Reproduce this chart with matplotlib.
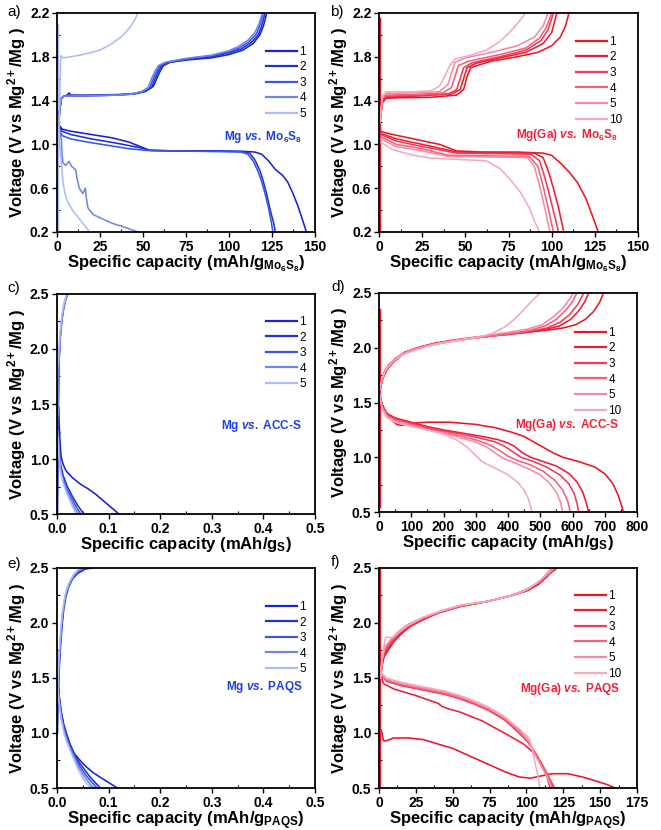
import numpy as np
import matplotlib
matplotlib.use("Agg")
import matplotlib.pyplot as plt
from matplotlib.ticker import MultipleLocator

plt.rcParams['font.family'] = ['Liberation Sans', 'DejaVu Sans']
plt.rcParams['mathtext.fontset'] = 'custom'
plt.rcParams['mathtext.rm'] = 'Liberation Sans:bold'
plt.rcParams['mathtext.bf'] = 'Liberation Sans:bold'
plt.rcParams['mathtext.it'] = 'Liberation Sans:italic:bold'

# ---------------- data (capacity, voltage) ----------------
blue_labels = ['1', '2', '3', '4', '5']
red_labels = ['1', '2', '3', '4', '5', '10']

# tick values
mo_yticks = [0.2, 0.6, 1.0, 1.4, 1.8, 2.2]
v_yticks = [0.5, 1.0, 1.5, 2.0, 2.5]

# a) Mg vs. Mo6S8
a_chg = [
    [(0.8, 1.15), (1.5, 1.3), (2.5, 1.42), (4, 1.44), (6, 1.45), (7, 1.47), (8, 1.45), (20, 1.45), (35, 1.455), (45, 1.465), (52, 1.49), (56, 1.53), (58, 1.6), (60, 1.67), (62, 1.72), (66, 1.75), (75, 1.77), (90, 1.79), (100, 1.82), (108, 1.86), (114, 1.92), (118, 2.0), (120, 2.08), (122, 2.2)],
    [(0.8, 1.15), (1.5, 1.3), (2.5, 1.42), (4, 1.44), (20, 1.445), (35, 1.45), (45, 1.46), (51, 1.48), (55, 1.52), (57, 1.6), (59, 1.67), (61, 1.72), (65, 1.75), (75, 1.775), (90, 1.8), (100, 1.835), (107, 1.87), (113, 1.93), (117, 2.0), (119, 2.08), (121, 2.2)],
    [(0.8, 1.15), (1.5, 1.3), (2.5, 1.42), (4, 1.44), (20, 1.445), (35, 1.45), (44, 1.46), (50, 1.48), (54, 1.52), (56, 1.6), (58, 1.67), (60, 1.72), (64, 1.75), (75, 1.78), (90, 1.81), (100, 1.845), (106, 1.88), (112, 1.94), (116, 2.01), (118, 2.09), (120, 2.2)],
    [(0.8, 1.15), (1.5, 1.3), (2.5, 1.42), (4, 1.44), (20, 1.445), (35, 1.45), (43, 1.46), (49, 1.48), (53, 1.52), (55, 1.6), (57, 1.67), (59, 1.72), (63, 1.75), (75, 1.785), (90, 1.815), (100, 1.855), (105, 1.89), (111, 1.95), (115, 2.02), (117.5, 2.1), (119.5, 2.2)],
    [(1, 0.9), (1.3, 1.2), (1.7, 1.5), (2.2, 1.81), (3.5, 1.79), (8, 1.8), (15, 1.82), (25, 1.86), (32, 1.92), (38, 1.99), (42, 2.06), (45, 2.13), (47, 2.2)],
]
a_dis = [
    [(1.5, 1.17), (3, 1.14), (8, 1.12), (20, 1.09), (32, 1.06), (42, 1.02), (50, 0.97), (54, 0.945), (70, 0.94), (90, 0.94), (110, 0.935), (115, 0.93), (119, 0.91), (123, 0.85), (127, 0.77), (131, 0.72), (134, 0.66), (137, 0.56), (140, 0.44), (143, 0.3), (145, 0.2)],
    [(1.5, 1.15), (3, 1.12), (8, 1.09), (20, 1.05), (35, 1.01), (48, 0.97), (54, 0.945), (70, 0.94), (90, 0.94), (108, 0.935), (112, 0.92), (115, 0.86), (118, 0.76), (120, 0.66), (122, 0.54), (124, 0.4), (126, 0.28), (127, 0.2)],
    [(1.5, 1.13), (3, 1.08), (8, 1.05), (18, 1.02), (30, 0.99), (42, 0.96), (52, 0.945), (70, 0.94), (90, 0.935), (107, 0.93), (111, 0.91), (114, 0.85), (117, 0.75), (119, 0.66), (121, 0.55), (123, 0.42), (124.5, 0.3), (125.5, 0.2)],
    [(1.5, 1.12), (2.5, 1.05), (3, 0.9), (3.5, 0.83), (5, 0.81), (7, 0.845), (8.5, 0.8), (10, 0.78), (11, 0.76), (11.5, 0.7), (13, 0.6), (15, 0.55), (16.5, 0.6), (17, 0.52), (18, 0.42), (21, 0.36), (25, 0.33), (32, 0.28), (40, 0.24), (47, 0.2)],
    [(1, 1.12), (1.5, 1.05), (2, 0.95), (2.7, 0.8), (3.5, 0.66), (4.5, 0.56), (6, 0.48), (9, 0.4), (12, 0.34), (15, 0.28), (17, 0.24), (19, 0.2)],
]
a_rest = [(0.4, 0.2), (0.4, 2.1)]

# b) Mg(Ga) vs. Mo6S8
b_chg = [
    [(0.5, 1.2), (2, 1.38), (4, 1.42), (10, 1.425), (30, 1.43), (45, 1.45), (49, 1.5), (51, 1.62), (53, 1.7), (57, 1.72), (65, 1.76), (80, 1.8), (92, 1.84), (100, 1.9), (105, 1.98), (108, 2.08), (110, 2.2)],
    [(0.5, 1.2), (2, 1.4), (4, 1.43), (20, 1.44), (42, 1.46), (47, 1.5), (49, 1.6), (51, 1.7), (56, 1.74), (70, 1.79), (85, 1.84), (95, 1.92), (100, 2.02), (103, 2.2)],
    [(0.5, 1.2), (2, 1.41), (4, 1.44), (20, 1.445), (40, 1.46), (45, 1.5), (47, 1.6), (49, 1.7), (54, 1.745), (70, 1.8), (85, 1.86), (94, 1.95), (98, 2.05), (101, 2.2)],
    [(0.5, 1.2), (2, 1.42), (4, 1.45), (20, 1.455), (37, 1.47), (42, 1.52), (44, 1.62), (46, 1.72), (52, 1.76), (70, 1.82), (85, 1.88), (93, 1.97), (97, 2.07), (100, 2.2)],
    [(0.5, 1.2), (2, 1.43), (4, 1.465), (20, 1.47), (35, 1.48), (40, 1.55), (42, 1.65), (44, 1.75), (50, 1.79), (65, 1.84), (80, 1.9), (90, 1.98), (95, 2.08), (98, 2.2)],
    [(0.5, 1.2), (2, 1.44), (4, 1.48), (20, 1.48), (30, 1.49), (35, 1.53), (38, 1.62), (41, 1.72), (44, 1.78), (52, 1.81), (62, 1.86), (70, 1.94), (76, 2.03), (81, 2.12), (85, 2.2)],
]
b_dis = [
    [(1, 1.12), (5, 1.1), (20, 1.05), (35, 1.0), (45, 0.94), (60, 0.93), (80, 0.93), (95, 0.92), (100, 0.9), (105, 0.83), (110, 0.75), (115, 0.65), (120, 0.5), (124, 0.33), (127, 0.2)],
    [(1, 1.1), (10, 1.05), (25, 1.0), (45, 0.93), (90, 0.92), (95, 0.88), (98, 0.76), (101, 0.6), (104, 0.42), (107, 0.2)],
    [(1, 1.09), (10, 1.03), (25, 0.98), (45, 0.92), (88, 0.91), (93, 0.85), (96, 0.7), (99, 0.52), (104, 0.2)],
    [(1, 1.07), (10, 1.0), (25, 0.96), (40, 0.9), (87, 0.89), (92, 0.8), (95, 0.62), (98, 0.42), (101, 0.2)],
    [(1, 1.05), (10, 0.98), (25, 0.94), (40, 0.89), (86, 0.88), (90, 0.8), (93, 0.62), (96, 0.42), (99, 0.2)],
    [(1, 1.02), (8, 0.95), (20, 0.9), (30, 0.875), (62, 0.85), (70, 0.78), (76, 0.68), (82, 0.56), (87, 0.42), (90, 0.3), (93, 0.2)],
]
b_rest = [(0.3, 0.2), (0.3, 2.15)]

# c) Mg vs. ACC-S
c_chg = [
    [(0.001, 0.5), (0.002, 1.0), (0.003, 1.47)],
    [(0.002, 1.3), (0.003, 1.6), (0.004, 1.9), (0.006, 2.1), (0.009, 2.25), (0.013, 2.38), (0.017, 2.46), (0.02, 2.5)],
    [(0.002, 1.3), (0.003, 1.65), (0.004, 1.88), (0.006, 2.08), (0.009, 2.24), (0.013, 2.37), (0.017, 2.45), (0.021, 2.5)],
    [(0.002, 1.4), (0.003, 1.7), (0.004, 1.9), (0.006, 2.1), (0.009, 2.26), (0.013, 2.39), (0.018, 2.48), (0.02, 2.5)],
    [(0.002, 1.85), (0.004, 2.02), (0.006, 2.15), (0.009, 2.28), (0.013, 2.4), (0.017, 2.47), (0.019, 2.5)],
]
c_dis = [
    [(0.003, 1.47), (0.004, 1.35), (0.006, 1.15), (0.008, 1.02), (0.012, 0.95), (0.018, 0.89), (0.03, 0.83), (0.046, 0.77), (0.06, 0.73), (0.075, 0.68), (0.09, 0.62), (0.105, 0.56), (0.12, 0.5)],
    [(0.002, 1.3), (0.004, 1.1), (0.007, 0.95), (0.012, 0.85), (0.02, 0.75), (0.03, 0.66), (0.04, 0.58), (0.052, 0.5)],
    [(0.002, 1.28), (0.004, 1.08), (0.007, 0.92), (0.012, 0.82), (0.02, 0.72), (0.03, 0.63), (0.038, 0.56), (0.046, 0.5)],
    [(0.002, 1.25), (0.004, 1.05), (0.007, 0.9), (0.012, 0.8), (0.02, 0.7), (0.028, 0.62), (0.035, 0.55), (0.041, 0.5)],
    [(0.002, 1.2), (0.004, 1.02), (0.007, 0.88), (0.012, 0.78), (0.018, 0.7), (0.025, 0.62), (0.032, 0.55), (0.037, 0.5)],
]

# d) Mg(Ga) vs. ACC-S
d_chg = [
    [(0, 1.55), (5, 1.64), (12, 1.72), (25, 1.8), (45, 1.87), (75, 1.94), (110, 1.99), (160, 2.03), (220, 2.06), (300, 2.09), (380, 2.12), (450, 2.14), (520, 2.16), (570, 2.18), (610, 2.21), (640, 2.26), (665, 2.33), (685, 2.42), (696, 2.5)],
    [(0, 1.56), (6, 1.66), (14, 1.75), (28, 1.83), (50, 1.9), (80, 1.96), (120, 2.0), (170, 2.04), (230, 2.07), (310, 2.1), (390, 2.12), (460, 2.14), (520, 2.17), (560, 2.2), (595, 2.26), (620, 2.34), (638, 2.42), (650, 2.5)],
    [(0, 1.57), (7, 1.68), (16, 1.77), (32, 1.85), (55, 1.91), (90, 1.97), (130, 2.01), (180, 2.04), (240, 2.07), (320, 2.1), (400, 2.12), (470, 2.15), (520, 2.18), (560, 2.23), (590, 2.3), (615, 2.39), (635, 2.5)],
    [(0, 1.58), (8, 1.7), (18, 1.79), (35, 1.86), (60, 1.92), (95, 1.97), (140, 2.01), (190, 2.04), (250, 2.07), (330, 2.1), (410, 2.13), (470, 2.16), (515, 2.2), (550, 2.26), (578, 2.34), (600, 2.42), (613, 2.5)],
    [(0, 1.59), (9, 1.71), (20, 1.8), (40, 1.87), (65, 1.93), (100, 1.98), (150, 2.02), (200, 2.05), (260, 2.08), (330, 2.11), (400, 2.14), (460, 2.17), (505, 2.21), (540, 2.28), (570, 2.36), (590, 2.44), (603, 2.5)],
    [(0, 1.6), (10, 1.72), (22, 1.8), (45, 1.88), (75, 1.94), (115, 1.98), (170, 2.03), (230, 2.06), (300, 2.09), (350, 2.13), (390, 2.19), (420, 2.26), (450, 2.35), (475, 2.43), (500, 2.5)],
]
d_dis = [
    [(0, 1.6), (8, 1.5), (18, 1.42), (35, 1.35), (55, 1.3), (70, 1.29), (90, 1.31), (150, 1.32), (220, 1.32), (300, 1.3), (360, 1.27), (410, 1.23), (450, 1.19), (480, 1.14), (510, 1.09), (540, 1.04), (570, 1.0), (620, 0.96), (670, 0.91), (700, 0.85), (725, 0.76), (742, 0.65), (752, 0.56), (758, 0.5)],
    [(0, 1.6), (10, 1.48), (25, 1.4), (50, 1.36), (100, 1.32), (150, 1.28), (200, 1.25), (260, 1.22), (320, 1.19), (370, 1.16), (400, 1.13), (420, 1.1), (445, 1.04), (470, 1.0), (510, 0.96), (550, 0.92), (590, 0.85), (615, 0.77), (632, 0.68), (643, 0.58), (650, 0.5)],
    [(0, 1.6), (10, 1.47), (25, 1.39), (50, 1.35), (100, 1.31), (150, 1.27), (200, 1.24), (260, 1.21), (320, 1.17), (360, 1.14), (390, 1.1), (415, 1.05), (440, 1.0), (480, 0.96), (520, 0.91), (560, 0.84), (588, 0.76), (605, 0.67), (614, 0.58), (619, 0.5)],
    [(0, 1.6), (10, 1.46), (25, 1.38), (50, 1.34), (100, 1.3), (150, 1.26), (200, 1.23), (260, 1.19), (310, 1.15), (345, 1.11), (375, 1.06), (400, 1.01), (430, 0.97), (470, 0.93), (510, 0.87), (545, 0.79), (570, 0.7), (585, 0.6), (593, 0.5)],
    [(0, 1.6), (10, 1.45), (25, 1.37), (50, 1.33), (100, 1.29), (150, 1.25), (200, 1.22), (250, 1.18), (300, 1.14), (335, 1.09), (360, 1.04), (385, 0.99), (420, 0.95), (460, 0.9), (500, 0.84), (530, 0.76), (552, 0.67), (564, 0.58), (569, 0.5)],
    [(0, 1.6), (10, 1.44), (25, 1.36), (50, 1.32), (100, 1.28), (150, 1.25), (200, 1.21), (240, 1.16), (270, 1.1), (295, 1.03), (320, 0.96), (360, 0.9), (400, 0.84), (430, 0.77), (450, 0.7), (463, 0.62), (470, 0.55), (474, 0.5)],
]
d_rest = [(2, 0.55), (2, 2.35)]

# e) Mg vs. PAQS
e_chg = [
    [(0.001, 1.0), (0.002, 1.3), (0.003, 1.5)],
    [(0.002, 1.3), (0.004, 1.55), (0.007, 1.8), (0.01, 1.98), (0.013, 2.12), (0.017, 2.23), (0.022, 2.32), (0.03, 2.4), (0.04, 2.45), (0.055, 2.49), (0.07, 2.5)],
    [(0.002, 1.35), (0.004, 1.6), (0.007, 1.85), (0.01, 2.02), (0.013, 2.15), (0.017, 2.26), (0.022, 2.34), (0.03, 2.41), (0.04, 2.46), (0.05, 2.49), (0.062, 2.5)],
    [(0.002, 1.4), (0.004, 1.65), (0.007, 1.88), (0.01, 2.05), (0.014, 2.18), (0.018, 2.28), (0.024, 2.36), (0.032, 2.43), (0.042, 2.48), (0.052, 2.5)],
    [(0.002, 1.45), (0.004, 1.7), (0.007, 1.92), (0.01, 2.08), (0.014, 2.21), (0.019, 2.31), (0.026, 2.39), (0.034, 2.45), (0.042, 2.49), (0.047, 2.5)],
]
e_dis = [
    [(0.001, 1.52), (0.004, 1.35), (0.008, 1.2), (0.013, 1.08), (0.018, 1.0), (0.025, 0.9), (0.034, 0.81), (0.045, 0.75), (0.055, 0.7), (0.07, 0.64), (0.083, 0.6), (0.1, 0.55), (0.117, 0.5)],
    [(0.001, 1.5), (0.004, 1.34), (0.008, 1.19), (0.013, 1.07), (0.018, 0.99), (0.025, 0.9), (0.034, 0.8), (0.045, 0.72), (0.056, 0.65), (0.066, 0.59), (0.076, 0.54), (0.084, 0.5)],
    [(0.001, 1.48), (0.004, 1.32), (0.008, 1.17), (0.013, 1.05), (0.018, 0.97), (0.025, 0.88), (0.034, 0.79), (0.044, 0.7), (0.054, 0.63), (0.064, 0.57), (0.072, 0.53), (0.078, 0.5)],
    [(0.001, 1.46), (0.004, 1.3), (0.008, 1.15), (0.013, 1.03), (0.018, 0.95), (0.025, 0.86), (0.033, 0.78), (0.042, 0.69), (0.051, 0.62), (0.06, 0.56), (0.067, 0.52), (0.072, 0.5)],
    [(0.001, 1.44), (0.004, 1.28), (0.008, 1.13), (0.013, 1.01), (0.018, 0.93), (0.025, 0.85), (0.032, 0.77), (0.04, 0.68), (0.048, 0.61), (0.056, 0.55), (0.062, 0.52), (0.067, 0.5)],
]

# f) Mg(Ga) vs. PAQS
f_chg = [
    [(1, 1.5), (2, 1.6), (3, 1.68), (6, 1.75), (10, 1.83), (15, 1.9), (22, 1.98), (30, 2.04), (40, 2.09), (55, 2.15), (75, 2.2), (90, 2.25), (100, 2.29), (108, 2.35), (114, 2.42), (119, 2.5)],
    [(1, 1.5), (2, 1.62), (4, 1.72), (8, 1.8), (13, 1.88), (20, 1.96), (30, 2.03), (42, 2.1), (55, 2.15), (75, 2.2), (90, 2.25), (101, 2.3), (109, 2.37), (115, 2.44), (120, 2.5)],
    [(1, 1.5), (2, 1.64), (4, 1.74), (8, 1.82), (13, 1.9), (20, 1.97), (30, 2.04), (42, 2.1), (55, 2.15), (75, 2.2), (90, 2.25), (101, 2.31), (110, 2.38), (116, 2.45), (121, 2.5)],
    [(1, 1.5), (2, 1.66), (4, 1.76), (8, 1.84), (13, 1.91), (20, 1.98), (30, 2.05), (42, 2.1), (55, 2.15), (75, 2.2), (90, 2.25), (100, 2.3), (108, 2.37), (114, 2.44), (118, 2.5)],
    [(1, 1.5), (2, 1.68), (4, 1.78), (8, 1.85), (13, 1.92), (20, 1.99), (30, 2.05), (42, 2.11), (55, 2.16), (75, 2.2), (90, 2.25), (100, 2.3), (109, 2.38), (115, 2.45), (119, 2.5)],
    [(1, 1.5), (2, 1.65), (3.5, 1.8), (4.5, 1.87), (10, 1.87), (13, 1.91), (20, 1.98), (30, 2.05), (42, 2.11), (55, 2.16), (75, 2.2), (90, 2.25), (100, 2.3), (108, 2.37), (113, 2.44), (117, 2.5)],
]
f_dis = [
    [(0.5, 1.05), (2, 1.0), (3, 0.93), (5, 0.93), (10, 0.955), (20, 0.955), (30, 0.94), (40, 0.9), (50, 0.86), (60, 0.8), (70, 0.74), (85, 0.65), (95, 0.6), (103, 0.59), (110, 0.61), (117, 0.63), (128, 0.63), (138, 0.6), (148, 0.56), (155, 0.53), (160, 0.5)],
    [(1.5, 1.52), (3, 1.45), (10, 1.4), (25, 1.34), (40, 1.27), (43, 1.24), (47, 1.22), (55, 1.19), (70, 1.11), (85, 1.0), (98, 0.9), (105, 0.82), (110, 0.73), (114, 0.63), (117, 0.55), (119, 0.5)],
    [(1.5, 1.53), (5, 1.47), (15, 1.43), (30, 1.39), (45, 1.35), (55, 1.31), (65, 1.26), (75, 1.2), (85, 1.12), (95, 1.0), (102, 0.9), (107, 0.8), (111, 0.7), (114, 0.6), (116, 0.5)],
    [(1.5, 1.54), (5, 1.48), (15, 1.44), (30, 1.4), (45, 1.36), (55, 1.32), (65, 1.27), (75, 1.21), (85, 1.13), (95, 1.02), (102, 0.9), (107, 0.8), (111, 0.7), (115, 0.6), (118, 0.5)],
    [(1.5, 1.54), (5, 1.49), (15, 1.45), (30, 1.41), (45, 1.37), (55, 1.33), (65, 1.28), (75, 1.22), (85, 1.14), (95, 1.03), (102, 0.92), (106, 0.8), (110, 0.7), (114, 0.6), (117, 0.5)],
    [(1.5, 1.55), (5, 1.5), (15, 1.46), (30, 1.42), (45, 1.38), (55, 1.34), (65, 1.29), (75, 1.23), (85, 1.15), (95, 1.04), (102, 0.95), (104, 0.85), (106, 0.72), (108, 0.6), (109, 0.5)],
]
f_rest = [(0.5, 0.5), (0.5, 2.5)]

blues = ['#1a23d6', '#1f30dc', '#3d55e2', '#6e86ea', '#adbdf3']
reds = ['#ef1423', '#f01c36', '#f13a55', '#f2607a', '#f48aa3', '#f6a8bf']
blue_txt = '#1f3fe8'
red_txt = '#f2203a'

ylab = r'Voltage (V vs Mg$^{\mathrm{2+}}$/Mg )'


def panel(rect, chg, dis, labels, colors, xlim, xmaj, ylim, yticks, xlabel,
          note, note_color, note_xy, leg_xy, rest=None, rest_color=None):
    ax = fig.add_axes(rect)
    if rest is not None:
        r = np.array(rest).T
        ax.plot(r[0], r[1], color=rest_color, lw=1.0)
    for i, lab in enumerate(labels):
        cx, cy = np.array(chg[i]).T
        dx, dy = np.array(dis[i]).T
        ax.plot(cx, cy, color=colors[i], lw=1.15)
        ax.plot(dx, dy, color=colors[i], lw=1.15, label=lab)
    ax.set_xlim(*xlim)
    ax.xaxis.set_major_locator(MultipleLocator(xmaj))
    ax.xaxis.set_minor_locator(MultipleLocator(xmaj / 2))
    ax.set_yticks(yticks)
    ax.yaxis.set_minor_locator(MultipleLocator((yticks[1] - yticks[0]) / 2))
    ax.set_ylim(*ylim)
    ax.tick_params(which='major', direction='out', length=3.5, width=1.0,
                   labelsize=10, pad=2)
    ax.tick_params(which='minor', direction='in', length=2.5, width=0.8)
    for t in ax.get_xticklabels() + ax.get_yticklabels():
        t.set_fontweight('bold')
    for s in ax.spines.values():
        s.set_linewidth(1.3)
    ax.set_xlabel(xlabel, fontsize=12, fontweight='bold', labelpad=-0.5)
    ax.set_ylabel(ylab, fontsize=12, fontweight='bold', labelpad=1)
    ax.text(note_xy[0], note_xy[1], note, transform=ax.transAxes, ha='right',
            va='center', color=note_color, fontsize=8.5, fontweight='bold')
    leg = ax.legend(loc='upper right', bbox_to_anchor=leg_xy, frameon=False,
                    fontsize=8.5, handlelength=2.6, handletextpad=0.2,
                    labelspacing=0.3, borderpad=0, borderaxespad=0)
    for h in leg.get_lines():
        h.set_linewidth(1.6)
    return ax


fig = plt.figure(figsize=(6.61, 8.30), dpi=100)

panel([0.0862, 0.7205, 0.3903, 0.2639], a_chg, a_dis, blue_labels, blues,
      (0, 150), 25, (0.2, 2.2), mo_yticks,
      r'Specific capacity (mAh/g$_{\mathrm{Mo_6S_8}}$)',
      r'Mg $\mathit{vs.}$ Mo$_{\mathrm{6}}$S$_{\mathrm{8}}$', blue_txt, (0.95, 0.434),
      (0.965, 0.85), a_rest, blues[4])
panel([0.5734, 0.7205, 0.3918, 0.2639], b_chg, b_dis, red_labels, reds,
      (0, 150), 25, (0.2, 2.2), mo_yticks,
      r'Specific capacity (mAh/g$_{\mathrm{Mo_6S_8}}$)',
      r'Mg(Ga) $\mathit{vs.}$ Mo$_{\mathrm{6}}$S$_{\mathrm{8}}$', red_txt, (0.923, 0.443),
      (0.94, 0.895), b_rest, reds[0])
panel([0.0862, 0.3807, 0.3903, 0.2651], c_chg, c_dis, blue_labels, blues,
      (0, 0.5), 0.1, (0.5, 2.5), v_yticks,
      r'Specific capacity (mAh/g$_{\mathrm{S}}$)',
      r'Mg $\mathit{vs.}$ ACC-S', blue_txt, (0.95, 0.40),
      (0.965, 0.9))
panel([0.5734, 0.3831, 0.3903, 0.2639], d_chg, d_dis, red_labels, reds,
      (0, 800), 100, (0.5, 2.5), v_yticks,
      r'Specific capacity (mAh/g$_{\mathrm{S}}$)',
      r'Mg(Ga) $\mathit{vs.}$ ACC-S', red_txt, (0.93, 0.397),
      (0.94, 0.845), d_rest, reds[0])
panel([0.0862, 0.0506, 0.3903, 0.2651], e_chg, e_dis, blue_labels, blues,
      (0, 0.5), 0.1, (0.5, 2.5), v_yticks,
      r'Specific capacity (mAh/g$_{\mathrm{PAQS}}$)',
      r'Mg $\mathit{vs.}$ PAQS', blue_txt, (0.953, 0.459),
      (0.965, 0.85))
panel([0.5734, 0.0506, 0.3903, 0.2651], f_chg, f_dis, red_labels, reds,
      (0, 175), 25, (0.5, 2.5), v_yticks,
      r'Specific capacity (mAh/g$_{\mathrm{PAQS}}$)',
      r'Mg(Ga) $\mathit{vs.}$ PAQS', red_txt, (0.934, 0.448),
      (0.94, 0.9), f_rest, reds[0])

for lab, x, y in [('a)', 7, 12), ('b)', 330, 12), ('c)', 7, 288),
                  ('d)', 331, 287), ('e)', 7, 564), ('f)', 331, 562)]:
    fig.text(x / 661, 1 - y / 830, lab, fontsize=11, ha='left', va='center')

fig.savefig('out.png', dpi=100)
